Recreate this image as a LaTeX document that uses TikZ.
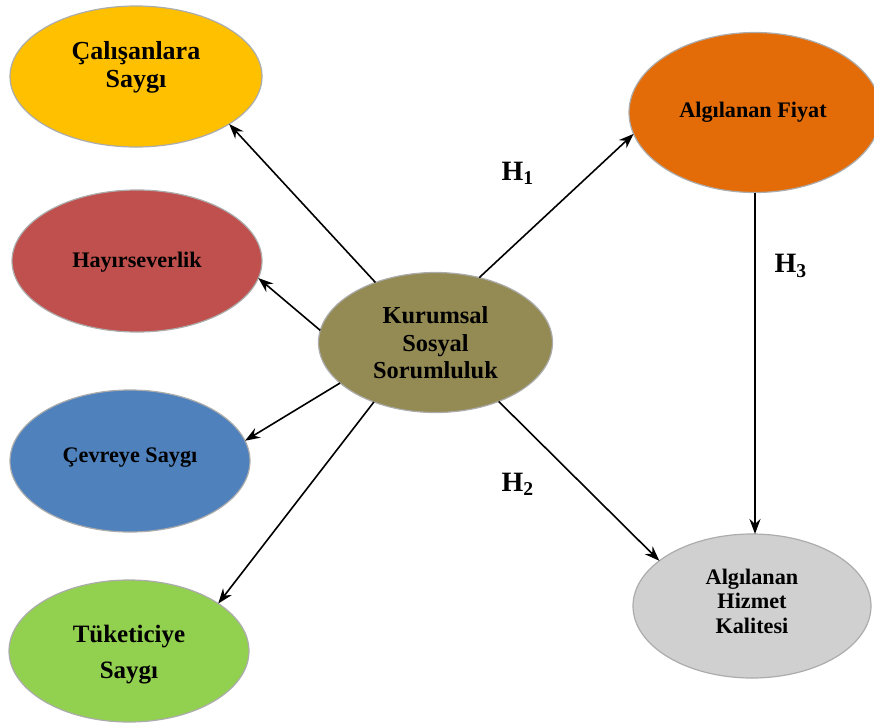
\documentclass[tikz,border=0pt]{standalone}
\usepackage{fontspec}
\setmainfont{Liberation Serif}
\usetikzlibrary{shapes.geometric,arrows.meta}
\definecolor{cYellow}{HTML}{FFC000}
\definecolor{cRed}{HTML}{C0504D}
\definecolor{cBlue}{HTML}{4F81BD}
\definecolor{cGreen}{HTML}{92D050}
\definecolor{cOlive}{HTML}{948A54}
\definecolor{cOrange}{HTML}{E36C09}
\definecolor{cGray}{HTML}{D0D0D0}
\begin{document}
\begin{tikzpicture}[x=0.5pt,y=-0.5pt,
  oval/.style={ellipse,draw=gray!65,line width=0.6pt,inner sep=0pt,outer sep=0pt},
  lbl/.style={font=\bfseries,align=center,inner sep=0pt,text=black},
  hlbl/.style={font=\fontsize{14}{16}\selectfont\bfseries,inner sep=0pt},
  arr/.style={-{Stealth[length=7.5pt,width=5.5pt]},line width=0.8pt,black}]
\useasboundingbox (0,0) rectangle (874,725);
% ellipses
\node[oval,fill=cYellow,minimum width=126pt,minimum height=70.5pt] (cal) at (136,76.5) {};
\node[oval,fill=cRed,minimum width=125pt,minimum height=71pt] (hay) at (137,261) {};
\node[oval,fill=cBlue,minimum width=120pt,minimum height=71pt] (cev) at (130,461) {};
\node[oval,fill=cGreen,minimum width=120pt,minimum height=71pt] (tuk) at (129,651) {};
\node[oval,fill=cOlive,minimum width=117pt,minimum height=70pt] (kss) at (435.5,342.5) {};
\node[oval,fill=cOrange,minimum width=126pt,minimum height=80pt] (fiy) at (755,112.5) {};
\node[oval,fill=cGray,minimum width=119pt,minimum height=72pt] (hiz) at (752,606) {};
% texts
\node[lbl,font=\fontsize{13}{14}\selectfont\bfseries] (calt) at (136,67) {Çalışanlara\\Saygı};
\node[lbl,font=\fontsize{11.1}{12}\selectfont\bfseries] (hayt) at (137,262) {Hayırseverlik};
\node[lbl,font=\fontsize{11.1}{12}\selectfont\bfseries] (cevt) at (130,458) {Çevreye Saygı};
\node[lbl,font=\fontsize{12.5}{18}\selectfont\bfseries] (tukt) at (129,655) {Tüketiciye\\Saygı};
\node[lbl,font=\fontsize{12.2}{13.75}\selectfont\bfseries] (ksst) at (435.5,343) {Kurumsal\\Sosyal\\Sorumluluk};
\node[lbl,font=\fontsize{11.1}{12}\selectfont\bfseries] (fiyt) at (753,112) {Algılanan Fiyat};
\node[lbl,font=\fontsize{11.1}{12.3}\selectfont\bfseries] (hizt) at (752,601) {Algılanan\\Hizmet\\Kalitesi};
% arrows
\draw[arr] (kss.135) -- (cal.-27);
\draw[arr] (kss.174) -- (hay.-8);
\draw[arr] (kss.203) -- (cev.10);
\draw[arr] (kss.224) -- (tuk.28);
\draw[arr] (kss.56) -- (fiy.190);
\draw[arr] (kss.-43) -- (hiz.154);
\draw[arr] (fiy.south) -- (fiy.south |- hiz.north);
% hypothesis labels
\node[hlbl] (h1) at (518,173) {H\textsubscript{1}};
\node[hlbl] (h2) at (518,484) {H\textsubscript{2}};
\node[hlbl] (h3) at (791,266) {H\textsubscript{3}};
\end{tikzpicture}
\end{document}
